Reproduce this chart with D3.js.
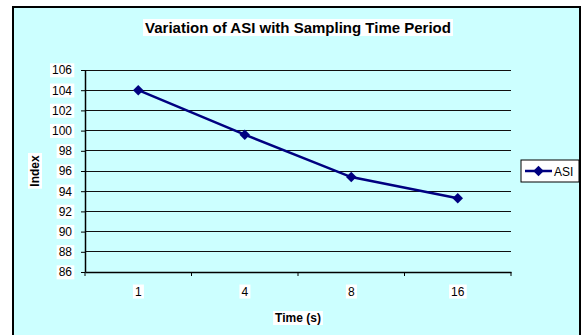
<!DOCTYPE html>
<html>
<head>
<meta charset="utf-8">
<script src="https://cdn.jsdelivr.net/npm/d3@7"></script>
<style>
  body { margin: 0; background: #fff; }
  text { font-family: "Liberation Sans", Arial, sans-serif; }
</style>
</head>
<body>
<svg id="chart"></svg>
<script>
let categories = ["1", "4", "8", "16"];
let asiValues = [104.0, 99.6, 95.4, 93.3];
let yTicks = [86, 88, 90, 92, 94, 96, 98, 100, 102, 104, 106];
let seriesName = "ASI";

let ancho = 582, alto = 335;
let svg = d3.select("#chart").attr("width", ancho).attr("height", alto);

// fondo del grafico
svg.append("rect")
    .attr("x", 13).attr("y", 7)
    .attr("width", 567).attr("height", 340)
    .attr("fill", "#ccffff")
    .attr("stroke", "#000").attr("stroke-width", 2);

let plot = { left: 85, right: 511, top: 70, bottom: 272 };

let x = d3.scaleBand().domain(categories).range([plot.left, plot.right]);
let y = d3.scaleLinear().domain([86, 106]).range([plot.bottom, plot.top]);

// lineas de la grilla
svg.append("g")
    .selectAll("line")
    .data(yTicks.slice(1))
    .enter()
    .append("line")
    .attr("x1", plot.left).attr("x2", plot.right)
    .attr("y1", d => y(d)).attr("y2", d => y(d))
    .attr("stroke", "#111").attr("stroke-width", 1)
    .attr("shape-rendering", "crispEdges");

// eje Y
let yAxis = svg.append("g")
    .attr("transform", "translate(" + plot.left + ",0)")
    .call(d3.axisLeft(y).tickValues(yTicks).tickSize(4).tickSizeOuter(0));
yAxis.select(".domain").attr("stroke", "#000").attr("stroke-width", 1.5);
yAxis.selectAll("line").attr("stroke", "#000");
yAxis.selectAll("text").attr("font-size", 12).attr("fill", "#000").attr("x", -13);

// eje X
let xAxis = svg.append("g")
    .attr("transform", "translate(0," + plot.bottom + ")")
    .call(d3.axisBottom(x).tickSize(0).tickSizeOuter(0));
xAxis.select(".domain").attr("stroke", "#000").attr("stroke-width", 1.5);
xAxis.selectAll("text").attr("font-size", 12).attr("fill", "#000").attr("y", 15);

// marcas del eje X entre categorias
let bordes = categories.map(c => x(c)).concat([x(categories[categories.length - 1]) + x.bandwidth()]);
svg.append("g")
    .selectAll("line")
    .data(bordes)
    .enter()
    .append("line")
    .attr("x1", d => d).attr("x2", d => d)
    .attr("y1", plot.bottom).attr("y2", plot.bottom + 4)
    .attr("stroke", "#000").attr("stroke-width", 1);

// fondos blancos de las etiquetas
function fondoBlanco(sel) {
    sel.each(function () {
        let bb = this.getBBox();
        d3.select(this.parentNode).insert("rect", () => this)
            .attr("x", bb.x - 2).attr("y", bb.y)
            .attr("width", bb.width + 4).attr("height", bb.height)
            .attr("fill", "#fff")
            .attr("transform", d3.select(this).attr("transform"));
    });
}
fondoBlanco(yAxis.selectAll("text"));
fondoBlanco(xAxis.selectAll("text"));

// linea de la serie
let linea = d3.line()
    .x((d, i) => x(categories[i]) + x.bandwidth() / 2)
    .y(d => y(d));

svg.append("path")
    .datum(asiValues)
    .attr("d", linea)
    .attr("fill", "none")
    .attr("stroke", "#000080")
    .attr("stroke-width", 2.5);

let diamante = d3.symbol().type(d3.symbolDiamond2).size(70);
svg.append("g")
    .selectAll("path")
    .data(asiValues)
    .enter()
    .append("path")
    .attr("d", diamante)
    .attr("transform", (d, i) => "translate(" + (x(categories[i]) + x.bandwidth() / 2) + "," + y(d) + ")")
    .attr("fill", "#000080");

// titulo
let titulo = svg.append("g");
titulo.append("text")
    .attr("x", 298).attr("y", 33)
    .attr("text-anchor", "middle")
    .attr("font-size", 15).attr("font-weight", "bold")
    .text("Variation of ASI with Sampling Time Period");
fondoBlanco(titulo.selectAll("text"));

// titulos de ejes
let ejeX = svg.append("g");
ejeX.append("text")
    .attr("x", 298).attr("y", 322)
    .attr("text-anchor", "middle")
    .attr("font-size", 12).attr("font-weight", "bold")
    .text("Time (s)");
fondoBlanco(ejeX.selectAll("text"));

let ejeY = svg.append("g");
ejeY.append("text")
    .attr("transform", "translate(39," + ((plot.top + plot.bottom) / 2) + ") rotate(-90)")
    .attr("text-anchor", "middle")
    .attr("font-size", 12).attr("font-weight", "bold")
    .text("Index");
fondoBlanco(ejeY.selectAll("text"));

// leyenda
let leyenda = svg.append("g").attr("transform", "translate(521,160)");
leyenda.append("rect")
    .attr("width", 58).attr("height", 22)
    .attr("fill", "#fff").attr("stroke", "#000").attr("stroke-width", 1);
leyenda.append("line")
    .attr("x1", 4).attr("x2", 31).attr("y1", 11).attr("y2", 11)
    .attr("stroke", "#000080").attr("stroke-width", 2.5);
leyenda.append("path")
    .attr("d", diamante)
    .attr("transform", "translate(17.5,11)")
    .attr("fill", "#000080");
leyenda.append("text")
    .attr("x", 33).attr("y", 15.5)
    .attr("font-size", 12)
    .text(seriesName);
</script>
</body>
</html>
